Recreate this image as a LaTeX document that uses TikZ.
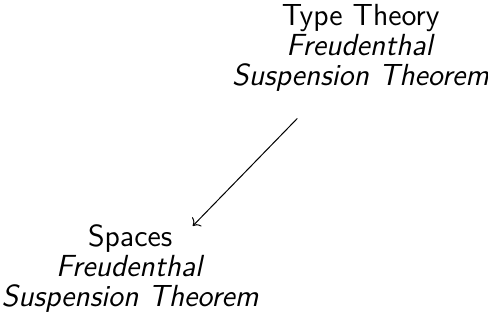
\documentclass[tikz,border=0pt]{standalone}
\usepackage{tikz}
\usetikzlibrary{arrows.meta,positioning,calc}
\renewcommand{\familydefault}{\sfdefault}

\begin{document}
\begin{tikzpicture}
  \useasboundingbox (0,0) rectangle (6.86,4.67);
  \tikzset{theorem/.style={align=center,inner sep=2pt,
      font=\fontsize{12.2}{12}\selectfont}}
  \node[theorem] (tt) at (5.07,3.995)
    {Type Theory\\ \textit{Freudenthal}\\ \textit{Suspension Theorem}};
  \node[theorem] (sp) at (1.83,0.90)
    {Spaces\\ \textit{Freudenthal}\\ \textit{Suspension Theorem}};
  \draw[->] ([xshift=-0.89cm,yshift=-0.3cm]tt.south) -- ([xshift=0.88cm,yshift=-0.1cm]sp.north);
\end{tikzpicture}
\end{document}
